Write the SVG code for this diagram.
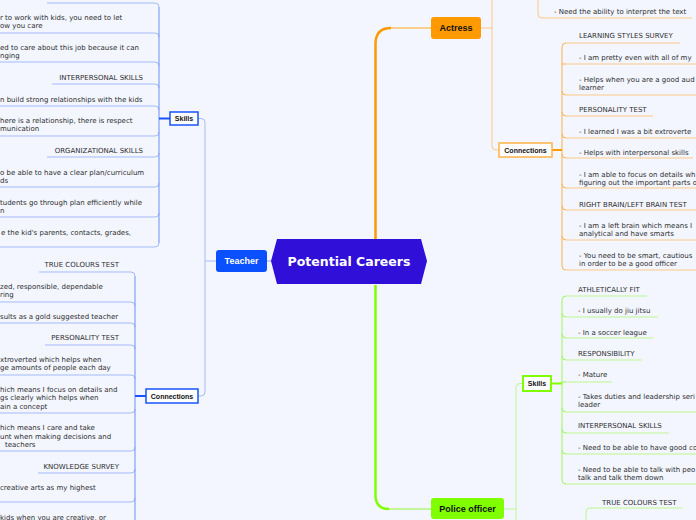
<svg xmlns="http://www.w3.org/2000/svg" width="696" height="520" viewBox="0 0 696 520">
<style>
.t{font-family:"DejaVu Sans",Verdana,sans-serif;font-size:7px;fill:#2e2e2e}
.he{text-anchor:end}
.nb{font-family:"Liberation Sans",Arial,sans-serif;font-weight:bold;font-size:7px;fill:#111;text-anchor:middle}
.mn{font-family:"Liberation Sans",Arial,sans-serif;font-weight:bold;font-size:9px;text-anchor:middle}
.ctr{font-family:"DejaVu Sans",Verdana,sans-serif;font-weight:bold;font-size:12.5px;fill:#fff;text-anchor:middle}
.ub{fill:none;stroke:#a3bbf9;stroke-width:1}
.vb{fill:none;stroke:#6a90f6;stroke-width:1}
.uo{fill:none;stroke:#fcc98a;stroke-width:1}
.vo{fill:none;stroke:#fdb24a;stroke-width:1}
.ug{fill:none;stroke:#bdf790;stroke-width:1}
.vg{fill:none;stroke:#9ef75a;stroke-width:1}
</style>
<rect width="696" height="520" fill="#f3f6fe"/>
<g id="connectors">
  <path d="M375.5 239 V44 Q375.5 28 391 28" fill="none" stroke="#ff9900" stroke-width="2.5"/>
  <path d="M391 28 H431" fill="none" stroke="#ffc266" stroke-width="1.5"/>
  <path d="M375.5 285 V495 Q375.5 509 389 509" fill="none" stroke="#80ff00" stroke-width="2.5"/>
  <path d="M389 509 H431" fill="none" stroke="#b3f57a" stroke-width="1.5"/>
  <path d="M267 261 H271" fill="none" stroke="#8eaaf5" stroke-width="1"/>
  <path d="M216 261 H205" class="ub"/>
  <path d="M198 118.5 H201 Q205 118.5 205 122.5 V392 Q205 396 201 396 H198" class="ub" stroke="#9db6f8"/>
  <path class="ub" d="M47 3 H155 Q159 3 159 7 M0 33 H155 Q159 33 159 37 M0 62 H155 Q159 62 159 66 M52 84 H155 Q159 84 159 88 M0 106 H155 Q159 106 159 110 M0 136 H155 Q159 136 159 132 M47 157 H155 Q159 157 159 153 M0 187 H155 Q159 187 159 183 M0 217 H155 Q159 217 159 213 M0 247 H155 Q159 247 159 243"/>
  <path class="vb" d="M159 7 V243"/>
  <path d="M159 118.5 H170" fill="none" stroke="#1a53ff" stroke-width="2"/>
  <path class="ub" d="M39 272 H131 Q135 272 135 276 M0 302 H131 Q135 302 135 306 M0 323 H131 Q135 323 135 327 M45 345 H131 Q135 345 135 349 M0 375 H131 Q135 375 135 379 M0 413 H131 Q135 413 135 409 M0 451 H131 Q135 451 135 447 M38 473 H131 Q135 473 135 469 M0 502 H131 Q135 502 135 498"/>
  <path class="vb" d="M135 276 V520"/>
  <path d="M135 396 H146" fill="none" stroke="#1a53ff" stroke-width="2"/>
  <path class="uo" d="M481 28 H492 M492 0 V146 Q492 150 496 150 H499" stroke="#fcd7a4"/>
  <path class="uo" d="M538 0 V14 Q538 18 542 18 H692" stroke="#fcd7a4"/>
  <path class="uo" d="M566 43 H680 M566 64 H696 M566 95 H696 M566 116 H653 M566 138 H696 M566 158 H693 M566 188 H696 M566 210 H696 M566 240 H696 M566 270 H696"/>
  <path class="vo" d="M566 43 Q562 43 562 47 V266 Q562 270 566 270 M562 64 Q562 64 566 64 M562 91 Q562 95 566 95 M562 112 Q562 116 566 116 M562 134 Q562 138 566 138 M562 154 Q562 158 566 158 M562 184 Q562 188 566 188 M562 206 Q562 210 566 210 M562 236 Q562 240 566 240"/>
  <path d="M552 150 H562" fill="none" stroke="#ff9900" stroke-width="2"/>
  <path class="ug" d="M504 509 H516 M523 383.5 H520 Q516 383.5 516 387.5 V520"/>
  <path class="ug" d="M566 296 H647 M566 317 H658 M566 338 H653 M566 360 H642 M566 382 H612 M566 412 H696 M566 433 H669 M566 454 H696 M566 484 H696"/>
  <path class="vg" d="M566 296 Q562 296 562 300 V480 Q562 484 566 484 M562 313 Q562 317 566 317 M562 334 Q562 338 566 338 M562 356 Q562 360 566 360 M562 382 H566 M562 408 Q562 412 566 412 M562 429 Q562 433 566 433 M562 450 Q562 454 566 454"/>
  <path d="M551 383.5 H562" fill="none" stroke="#80ff00" stroke-width="2"/>
  <path class="ug" d="M586 520 V512 Q586 508 590 508 H682"/>
</g>
<g id="center">
  <polygon points="271,261 277,239 421,239 427,261 421,284 277,284" fill="#300fd8"/>
  <text class="ctr" x="349" y="266">Potential Careers</text>
</g>
<g id="teacher">
  <rect x="216" y="250" width="51" height="22" rx="3" fill="#0a50ff"/>
  <text class="mn" x="241.5" y="264" fill="#fff">Teacher</text>
</g>
<g id="actress">
  <rect x="431" y="17" width="50" height="22" rx="3" fill="#ff9900"/>
  <text class="mn" x="456" y="31" fill="#111">Actress</text>
</g>
<g id="police">
  <rect x="431" y="498" width="73" height="21" rx="3" fill="#80ff00"/>
  <text class="mn" x="467.5" y="511.5" fill="#111">Police officer</text>
</g>
<g id="teacher-skills">
  <rect x="170" y="112" width="28" height="13" fill="#fff" stroke="#1a53ff" stroke-width="1.5"/>
  <text class="nb" x="184" y="121">Skills</text>
</g>
<g id="teacher-connections">
  <rect x="146" y="389" width="52" height="14" fill="#fff" stroke="#1a53ff" stroke-width="1.5"/>
  <text class="nb" x="172" y="398.5">Connections</text>
</g>
<g id="actress-connections">
  <rect x="499" y="143" width="53" height="14" fill="#fff" stroke="#ffb347" stroke-width="1.5"/>
  <text class="nb" x="525.5" y="152.5">Connections</text>
</g>
<g id="police-skills">
  <rect x="523" y="376" width="28" height="15" fill="#fff" stroke="#80ff00" stroke-width="2"/>
  <text class="nb" x="537" y="386">Skills</text>
</g>
<g id="teacher-skills-items">
  <text class="t" x="0" y="19.5">r to work with kids, you need to let</text>
  <text class="t" x="0" y="28">ow you care</text>
  <text class="t" x="0" y="49.5">ed to care about this job because it can</text>
  <text class="t" x="0" y="58">nging</text>
  <text class="t he" x="143" y="79.5">INTERPERSONAL SKILLS</text>
  <text class="t" x="0" y="101.5">n build strong relationships with the kids</text>
  <text class="t" x="0" y="122.5">here is a relationship, there is respect</text>
  <text class="t" x="0" y="131">munication</text>
  <text class="t he" x="143" y="152.5">ORGANIZATIONAL SKILLS</text>
  <text class="t" x="0" y="174.5">o be able to have a clear plan/curriculum</text>
  <text class="t" x="0" y="183">ds</text>
  <text class="t" x="0" y="204.5">tudents go through plan efficiently while</text>
  <text class="t" x="0" y="213">n</text>
  <text class="t" x="1" y="234.5">e the kid's parents, contacts, grades,</text>
</g>
<g id="teacher-connections-items">
  <text class="t he" x="119" y="266.5">TRUE COLOURS TEST</text>
  <text class="t" x="0" y="288.5">zed, responsible, dependable</text>
  <text class="t" x="0" y="297">ring</text>
  <text class="t" x="0" y="318.5">sults as a gold suggested teacher</text>
  <text class="t he" x="119" y="339.5">PERSONALITY TEST</text>
  <text class="t" x="0" y="361.5">xtroverted which helps when</text>
  <text class="t" x="0" y="370">ge amounts of people each day</text>
  <text class="t" x="0" y="391.5">hich means I focus on details and</text>
  <text class="t" x="0" y="400">gs clearly which helps when</text>
  <text class="t" x="0" y="408.5">ain a concept</text>
  <text class="t" x="0" y="429.5">hich means I care and take</text>
  <text class="t" x="0" y="438.5">unt when making decisions and</text>
  <text class="t" x="5" y="446.5">teachers</text>
  <text class="t he" x="119" y="468.5">KNOWLEDGE SURVEY</text>
  <text class="t" x="0" y="489.5">creative arts as my highest</text>
  <text class="t" x="0" y="519.5">kids when you are creative, or</text>
</g>
<g id="actress-items">
  <text class="t" x="554" y="14">- Need the ability to interpret the text</text>
  <text class="t" x="579" y="37.5">LEARNING STYLES SURVEY</text>
  <text class="t" x="579" y="59.5">- I am pretty even with all of my</text>
  <text class="t" x="579" y="81.5">- Helps when you are a good aud</text>
  <text class="t" x="579" y="90">learner</text>
  <text class="t" x="579" y="111.5">PERSONALITY TEST</text>
  <text class="t" x="579" y="133.5">- I learned I was a bit extroverte</text>
  <text class="t" x="579" y="154.5">- Helps with interpersonal skills</text>
  <text class="t" x="579" y="176.5">- I am able to focus on details wh</text>
  <text class="t" x="579" y="185">figuring out the important parts o</text>
  <text class="t" x="579" y="206.5">RIGHT BRAIN/LEFT BRAIN TEST</text>
  <text class="t" x="579" y="227.5">- I am a left brain which means I</text>
  <text class="t" x="579" y="236">analytical and have smarts</text>
  <text class="t" x="579" y="257.5">- You need to be smart, cautious</text>
  <text class="t" x="579" y="266">in order to be a good officer</text>
</g>
<g id="police-items">
  <text class="t" x="578" y="291.5">ATHLETICALLY FIT</text>
  <text class="t" x="578" y="312.5">- I usually do jiu jitsu</text>
  <text class="t" x="578" y="334.5">- In a soccer league</text>
  <text class="t" x="578" y="355.5">RESPONSIBILITY</text>
  <text class="t" x="578" y="377">- Mature</text>
  <text class="t" x="578" y="398.5">- Takes duties and leadership seri</text>
  <text class="t" x="578" y="407">leader</text>
  <text class="t" x="578" y="427.5">INTERPERSONAL SKILLS</text>
  <text class="t" x="578" y="450">- Need to be able to have good co</text>
  <text class="t" x="578" y="471.5">- Need to be able to talk with peo</text>
  <text class="t" x="578" y="480">talk and talk them down</text>
  <text class="t" x="602" y="504.5">TRUE COLOURS TEST</text>
</g>
</svg>
